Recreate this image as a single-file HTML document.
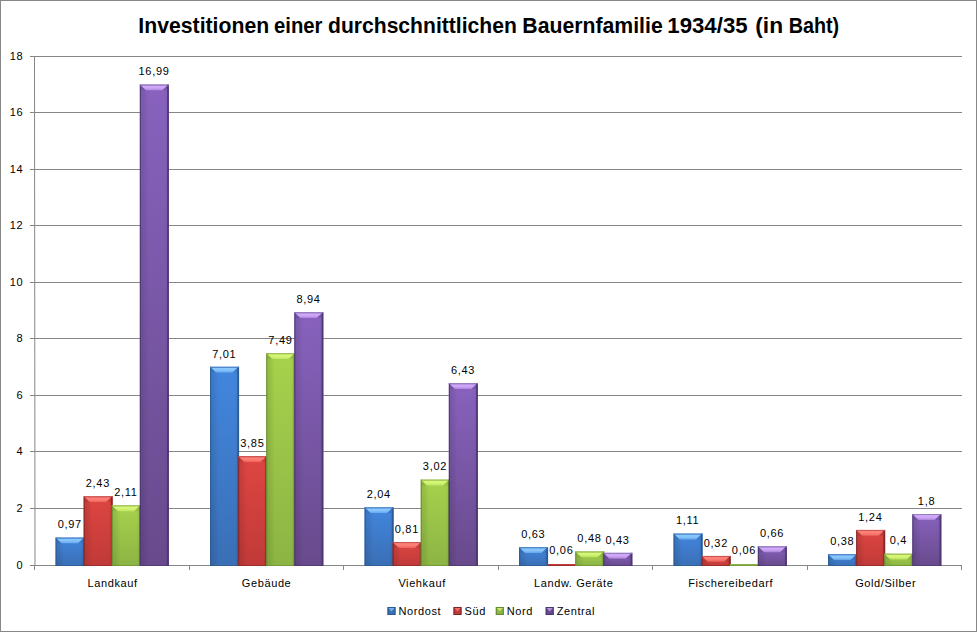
<!DOCTYPE html>
<html><head><meta charset="utf-8"><style>
html,body{margin:0;padding:0;background:#fff;}
body{width:977px;height:632px;overflow:hidden;position:relative;}
.frame{position:absolute;left:0;top:0;width:975px;height:630px;border:1px solid #878787;background:#fff;}
svg{position:absolute;left:0;top:0;}
text{font-family:"Liberation Sans",sans-serif;fill:#000;}
.ax{font-size:11px;letter-spacing:0.6px;}
.lb{font-size:11px;letter-spacing:0.7px;}
.lg{font-size:11px;letter-spacing:0.6px;}
.tt{font-size:21.2px;font-weight:bold;}
</style></head><body><div class="frame"></div>
<svg width="977" height="632" viewBox="0 0 977 632">
<defs><linearGradient id="hz" x1="0" y1="0" x2="1" y2="0"><stop offset="0" stop-color="#000" stop-opacity="0.1"/><stop offset="0.12" stop-color="#000" stop-opacity="0.08"/><stop offset="0.3" stop-color="#000" stop-opacity="0.0"/><stop offset="0.85" stop-color="#000" stop-opacity="0.0"/><stop offset="1" stop-color="#000" stop-opacity="0.08"/></linearGradient><linearGradient id="g0" x1="0" y1="0" x2="0" y2="1"><stop offset="0" stop-color="#4286de"/><stop offset="1" stop-color="#3a6fb5"/></linearGradient><linearGradient id="l0" x1="0" y1="0" x2="0" y2="1"><stop offset="0" stop-color="#8ccaff"/><stop offset="0.5" stop-color="#8ccaff" stop-opacity="0.9"/><stop offset="1" stop-color="#8ccaff" stop-opacity="0.5"/></linearGradient><linearGradient id="g1" x1="0" y1="0" x2="0" y2="1"><stop offset="0" stop-color="#de4642"/><stop offset="1" stop-color="#c03a38"/></linearGradient><linearGradient id="l1" x1="0" y1="0" x2="0" y2="1"><stop offset="0" stop-color="#ff8278"/><stop offset="0.5" stop-color="#ff8278" stop-opacity="0.9"/><stop offset="1" stop-color="#ff8278" stop-opacity="0.5"/></linearGradient><linearGradient id="g2" x1="0" y1="0" x2="0" y2="1"><stop offset="0" stop-color="#a6d24c"/><stop offset="1" stop-color="#8cb444"/></linearGradient><linearGradient id="l2" x1="0" y1="0" x2="0" y2="1"><stop offset="0" stop-color="#d8f878"/><stop offset="0.5" stop-color="#d8f878" stop-opacity="0.9"/><stop offset="1" stop-color="#d8f878" stop-opacity="0.5"/></linearGradient><linearGradient id="g3" x1="0" y1="0" x2="0" y2="1"><stop offset="0" stop-color="#8862be"/><stop offset="1" stop-color="#684a8c"/></linearGradient><linearGradient id="l3" x1="0" y1="0" x2="0" y2="1"><stop offset="0" stop-color="#d4acfc"/><stop offset="0.5" stop-color="#d4acfc" stop-opacity="0.9"/><stop offset="1" stop-color="#d4acfc" stop-opacity="0.5"/></linearGradient></defs>
<line x1="30" y1="565.5" x2="34" y2="565.5" stroke="#868686" stroke-width="1"/>
<text x="23.2" y="568.7" class="ax" text-anchor="end">0</text>
<line x1="34" y1="508.5" x2="962.0" y2="508.5" stroke="#868686" stroke-width="1"/>
<line x1="30" y1="508.5" x2="34" y2="508.5" stroke="#868686" stroke-width="1"/>
<text x="23.2" y="511.7" class="ax" text-anchor="end">2</text>
<line x1="34" y1="451.5" x2="962.0" y2="451.5" stroke="#868686" stroke-width="1"/>
<line x1="30" y1="451.5" x2="34" y2="451.5" stroke="#868686" stroke-width="1"/>
<text x="23.2" y="454.7" class="ax" text-anchor="end">4</text>
<line x1="34" y1="395.5" x2="962.0" y2="395.5" stroke="#868686" stroke-width="1"/>
<line x1="30" y1="395.5" x2="34" y2="395.5" stroke="#868686" stroke-width="1"/>
<text x="23.2" y="398.7" class="ax" text-anchor="end">6</text>
<line x1="34" y1="338.5" x2="962.0" y2="338.5" stroke="#868686" stroke-width="1"/>
<line x1="30" y1="338.5" x2="34" y2="338.5" stroke="#868686" stroke-width="1"/>
<text x="23.2" y="341.7" class="ax" text-anchor="end">8</text>
<line x1="34" y1="282.5" x2="962.0" y2="282.5" stroke="#868686" stroke-width="1"/>
<line x1="30" y1="282.5" x2="34" y2="282.5" stroke="#868686" stroke-width="1"/>
<text x="23.2" y="285.7" class="ax" text-anchor="end">10</text>
<line x1="34" y1="225.5" x2="962.0" y2="225.5" stroke="#868686" stroke-width="1"/>
<line x1="30" y1="225.5" x2="34" y2="225.5" stroke="#868686" stroke-width="1"/>
<text x="23.2" y="228.7" class="ax" text-anchor="end">12</text>
<line x1="34" y1="169.5" x2="962.0" y2="169.5" stroke="#868686" stroke-width="1"/>
<line x1="30" y1="169.5" x2="34" y2="169.5" stroke="#868686" stroke-width="1"/>
<text x="23.2" y="172.7" class="ax" text-anchor="end">14</text>
<line x1="34" y1="112.5" x2="962.0" y2="112.5" stroke="#868686" stroke-width="1"/>
<line x1="30" y1="112.5" x2="34" y2="112.5" stroke="#868686" stroke-width="1"/>
<text x="23.2" y="115.7" class="ax" text-anchor="end">16</text>
<line x1="34" y1="56.5" x2="962.0" y2="56.5" stroke="#868686" stroke-width="1"/>
<line x1="30" y1="56.5" x2="34" y2="56.5" stroke="#868686" stroke-width="1"/>
<text x="23.2" y="59.7" class="ax" text-anchor="end">18</text>
<line x1="34.5" y1="56" x2="35.0" y2="566.0" stroke="#868686" stroke-width="1"/>
<line x1="34.5" y1="565" x2="34.5" y2="570" stroke="#868686" stroke-width="1"/>
<line x1="189.5" y1="565" x2="189.5" y2="570" stroke="#868686" stroke-width="1"/>
<line x1="343.5" y1="565" x2="343.5" y2="570" stroke="#868686" stroke-width="1"/>
<line x1="498.5" y1="565" x2="498.5" y2="570" stroke="#868686" stroke-width="1"/>
<line x1="652.5" y1="565" x2="652.5" y2="570" stroke="#868686" stroke-width="1"/>
<line x1="807.5" y1="565" x2="807.5" y2="570" stroke="#868686" stroke-width="1"/>
<line x1="961.5" y1="565" x2="961.5" y2="570" stroke="#868686" stroke-width="1"/>
<line x1="30" y1="565.5" x2="962.0" y2="565.5" stroke="#868686" stroke-width="1"/>
<rect x="55.57" y="537.57" width="28.99" height="28.43" fill="url(#g0)"/>
<rect x="55.57" y="537.57" width="28.99" height="28.43" fill="url(#hz)"/>
<rect x="55.57" y="537.57" width="1.1" height="28.43" fill="#2a5890" opacity="0.85"/>
<rect x="82.86" y="537.57" width="1.7" height="28.43" fill="#2a5890" opacity="0.95"/>
<polygon points="56.67,538.57 82.86,538.57 78.06,543.37 61.47,543.37" fill="url(#l0)"/>
<polygon points="56.67,538.57 61.47,543.37 56.67,543.37" fill="#2a5890" opacity="0.2"/>
<polygon points="82.86,538.57 78.06,543.37 82.86,543.37" fill="#2a5890" opacity="0.2"/>
<rect x="55.57" y="537.57" width="28.99" height="1" fill="#4e86c6"/>
<rect x="55.57" y="565.00" width="28.99" height="1" fill="#2a5890" opacity="0.6"/>
<rect x="210.07" y="366.77" width="28.99" height="199.23" fill="url(#g0)"/>
<rect x="210.07" y="366.77" width="28.99" height="199.23" fill="url(#hz)"/>
<rect x="210.07" y="366.77" width="1.1" height="199.23" fill="#2a5890" opacity="0.85"/>
<rect x="237.36" y="366.77" width="1.7" height="199.23" fill="#2a5890" opacity="0.95"/>
<polygon points="211.17,367.77 237.36,367.77 232.56,372.57 215.97,372.57" fill="url(#l0)"/>
<polygon points="211.17,367.77 215.97,372.57 211.17,372.57" fill="#2a5890" opacity="0.2"/>
<polygon points="237.36,367.77 232.56,372.57 237.36,372.57" fill="#2a5890" opacity="0.2"/>
<rect x="210.07" y="366.77" width="28.99" height="1" fill="#4e86c6"/>
<rect x="210.07" y="565.00" width="28.99" height="1" fill="#2a5890" opacity="0.6"/>
<rect x="364.57" y="507.31" width="28.99" height="58.69" fill="url(#g0)"/>
<rect x="364.57" y="507.31" width="28.99" height="58.69" fill="url(#hz)"/>
<rect x="364.57" y="507.31" width="1.1" height="58.69" fill="#2a5890" opacity="0.85"/>
<rect x="391.86" y="507.31" width="1.7" height="58.69" fill="#2a5890" opacity="0.95"/>
<polygon points="365.67,508.31 391.86,508.31 387.06,513.11 370.47,513.11" fill="url(#l0)"/>
<polygon points="365.67,508.31 370.47,513.11 365.67,513.11" fill="#2a5890" opacity="0.2"/>
<polygon points="391.86,508.31 387.06,513.11 391.86,513.11" fill="#2a5890" opacity="0.2"/>
<rect x="364.57" y="507.31" width="28.99" height="1" fill="#4e86c6"/>
<rect x="364.57" y="565.00" width="28.99" height="1" fill="#2a5890" opacity="0.6"/>
<rect x="519.07" y="547.18" width="28.99" height="18.82" fill="url(#g0)"/>
<rect x="519.07" y="547.18" width="28.99" height="18.82" fill="url(#hz)"/>
<rect x="519.07" y="547.18" width="1.1" height="18.82" fill="#2a5890" opacity="0.85"/>
<rect x="546.36" y="547.18" width="1.7" height="18.82" fill="#2a5890" opacity="0.95"/>
<polygon points="520.17,548.18 546.36,548.18 541.56,552.98 524.97,552.98" fill="url(#l0)"/>
<polygon points="520.17,548.18 524.97,552.98 520.17,552.98" fill="#2a5890" opacity="0.2"/>
<polygon points="546.36,548.18 541.56,552.98 546.36,552.98" fill="#2a5890" opacity="0.2"/>
<rect x="519.07" y="547.18" width="28.99" height="1" fill="#4e86c6"/>
<rect x="519.07" y="565.00" width="28.99" height="1" fill="#2a5890" opacity="0.6"/>
<rect x="673.57" y="533.61" width="28.99" height="32.39" fill="url(#g0)"/>
<rect x="673.57" y="533.61" width="28.99" height="32.39" fill="url(#hz)"/>
<rect x="673.57" y="533.61" width="1.1" height="32.39" fill="#2a5890" opacity="0.85"/>
<rect x="700.86" y="533.61" width="1.7" height="32.39" fill="#2a5890" opacity="0.95"/>
<polygon points="674.67,534.61 700.86,534.61 696.06,539.41 679.47,539.41" fill="url(#l0)"/>
<polygon points="674.67,534.61 679.47,539.41 674.67,539.41" fill="#2a5890" opacity="0.2"/>
<polygon points="700.86,534.61 696.06,539.41 700.86,539.41" fill="#2a5890" opacity="0.2"/>
<rect x="673.57" y="533.61" width="28.99" height="1" fill="#4e86c6"/>
<rect x="673.57" y="565.00" width="28.99" height="1" fill="#2a5890" opacity="0.6"/>
<rect x="828.07" y="554.25" width="28.99" height="11.75" fill="url(#g0)"/>
<rect x="828.07" y="554.25" width="28.99" height="11.75" fill="url(#hz)"/>
<rect x="828.07" y="554.25" width="1.1" height="11.75" fill="#2a5890" opacity="0.85"/>
<rect x="855.36" y="554.25" width="1.7" height="11.75" fill="#2a5890" opacity="0.95"/>
<polygon points="829.17,555.25 855.36,555.25 850.56,560.05 833.97,560.05" fill="url(#l0)"/>
<polygon points="829.17,555.25 833.97,560.05 829.17,560.05" fill="#2a5890" opacity="0.2"/>
<polygon points="855.36,555.25 850.56,560.05 855.36,560.05" fill="#2a5890" opacity="0.2"/>
<rect x="828.07" y="554.25" width="28.99" height="1" fill="#4e86c6"/>
<rect x="828.07" y="565.00" width="28.99" height="1" fill="#2a5890" opacity="0.6"/>
<rect x="83.66" y="496.28" width="28.99" height="69.72" fill="url(#g1)"/>
<rect x="83.66" y="496.28" width="28.99" height="69.72" fill="url(#hz)"/>
<rect x="83.66" y="496.28" width="1.1" height="69.72" fill="#7e2626" opacity="0.85"/>
<rect x="110.95" y="496.28" width="1.7" height="69.72" fill="#7e2626" opacity="0.95"/>
<polygon points="84.76,497.28 110.95,497.28 106.15,502.08 89.56,502.08" fill="url(#l1)"/>
<polygon points="84.76,497.28 89.56,502.08 84.76,502.08" fill="#7e2626" opacity="0.2"/>
<polygon points="110.95,497.28 106.15,502.08 110.95,502.08" fill="#7e2626" opacity="0.2"/>
<rect x="83.66" y="496.28" width="28.99" height="1" fill="#c85656"/>
<rect x="83.66" y="565.00" width="28.99" height="1" fill="#7e2626" opacity="0.6"/>
<rect x="238.16" y="456.13" width="28.99" height="109.87" fill="url(#g1)"/>
<rect x="238.16" y="456.13" width="28.99" height="109.87" fill="url(#hz)"/>
<rect x="238.16" y="456.13" width="1.1" height="109.87" fill="#7e2626" opacity="0.85"/>
<rect x="265.45" y="456.13" width="1.7" height="109.87" fill="#7e2626" opacity="0.95"/>
<polygon points="239.26,457.13 265.45,457.13 260.65,461.93 244.06,461.93" fill="url(#l1)"/>
<polygon points="239.26,457.13 244.06,461.93 239.26,461.93" fill="#7e2626" opacity="0.2"/>
<polygon points="265.45,457.13 260.65,461.93 265.45,461.93" fill="#7e2626" opacity="0.2"/>
<rect x="238.16" y="456.13" width="28.99" height="1" fill="#c85656"/>
<rect x="238.16" y="565.00" width="28.99" height="1" fill="#7e2626" opacity="0.6"/>
<rect x="392.66" y="542.10" width="28.99" height="23.90" fill="url(#g1)"/>
<rect x="392.66" y="542.10" width="28.99" height="23.90" fill="url(#hz)"/>
<rect x="392.66" y="542.10" width="1.1" height="23.90" fill="#7e2626" opacity="0.85"/>
<rect x="419.95" y="542.10" width="1.7" height="23.90" fill="#7e2626" opacity="0.95"/>
<polygon points="393.76,543.10 419.95,543.10 415.15,547.89 398.56,547.89" fill="url(#l1)"/>
<polygon points="393.76,543.10 398.56,547.89 393.76,547.89" fill="#7e2626" opacity="0.2"/>
<polygon points="419.95,543.10 415.15,547.89 419.95,547.89" fill="#7e2626" opacity="0.2"/>
<rect x="392.66" y="542.10" width="28.99" height="1" fill="#c85656"/>
<rect x="392.66" y="565.00" width="28.99" height="1" fill="#7e2626" opacity="0.6"/>
<rect x="547.16" y="564" width="28.99" height="2" fill="#c03a38"/>
<rect x="547.16" y="565" width="28.99" height="1" fill="#7e2626" opacity="0.5"/>
<rect x="701.66" y="555.95" width="28.99" height="10.05" fill="url(#g1)"/>
<rect x="701.66" y="555.95" width="28.99" height="10.05" fill="url(#hz)"/>
<rect x="701.66" y="555.95" width="1.1" height="10.05" fill="#7e2626" opacity="0.85"/>
<rect x="728.95" y="555.95" width="1.7" height="10.05" fill="#7e2626" opacity="0.95"/>
<polygon points="702.76,556.95 728.95,556.95 724.15,561.75 707.56,561.75" fill="url(#l1)"/>
<polygon points="702.76,556.95 707.56,561.75 702.76,561.75" fill="#7e2626" opacity="0.2"/>
<polygon points="728.95,556.95 724.15,561.75 728.95,561.75" fill="#7e2626" opacity="0.2"/>
<rect x="701.66" y="555.95" width="28.99" height="1" fill="#c85656"/>
<rect x="701.66" y="565.00" width="28.99" height="1" fill="#7e2626" opacity="0.6"/>
<rect x="856.16" y="529.94" width="28.99" height="36.06" fill="url(#g1)"/>
<rect x="856.16" y="529.94" width="28.99" height="36.06" fill="url(#hz)"/>
<rect x="856.16" y="529.94" width="1.1" height="36.06" fill="#7e2626" opacity="0.85"/>
<rect x="883.45" y="529.94" width="1.7" height="36.06" fill="#7e2626" opacity="0.95"/>
<polygon points="857.26,530.94 883.45,530.94 878.65,535.74 862.06,535.74" fill="url(#l1)"/>
<polygon points="857.26,530.94 862.06,535.74 857.26,535.74" fill="#7e2626" opacity="0.2"/>
<polygon points="883.45,530.94 878.65,535.74 883.45,535.74" fill="#7e2626" opacity="0.2"/>
<rect x="856.16" y="529.94" width="28.99" height="1" fill="#c85656"/>
<rect x="856.16" y="565.00" width="28.99" height="1" fill="#7e2626" opacity="0.6"/>
<rect x="111.75" y="505.33" width="28.99" height="60.67" fill="url(#g2)"/>
<rect x="111.75" y="505.33" width="28.99" height="60.67" fill="url(#hz)"/>
<rect x="111.75" y="505.33" width="1.1" height="60.67" fill="#668830" opacity="0.85"/>
<rect x="139.04" y="505.33" width="1.7" height="60.67" fill="#668830" opacity="0.95"/>
<polygon points="112.85,506.33 139.04,506.33 134.24,511.13 117.65,511.13" fill="url(#l2)"/>
<polygon points="112.85,506.33 117.65,511.13 112.85,511.13" fill="#668830" opacity="0.2"/>
<polygon points="139.04,506.33 134.24,511.13 139.04,511.13" fill="#668830" opacity="0.2"/>
<rect x="111.75" y="505.33" width="28.99" height="1" fill="#9cba5a"/>
<rect x="111.75" y="565.00" width="28.99" height="1" fill="#668830" opacity="0.6"/>
<rect x="266.25" y="353.20" width="28.99" height="212.80" fill="url(#g2)"/>
<rect x="266.25" y="353.20" width="28.99" height="212.80" fill="url(#hz)"/>
<rect x="266.25" y="353.20" width="1.1" height="212.80" fill="#668830" opacity="0.85"/>
<rect x="293.54" y="353.20" width="1.7" height="212.80" fill="#668830" opacity="0.95"/>
<polygon points="267.35,354.20 293.54,354.20 288.74,359.00 272.15,359.00" fill="url(#l2)"/>
<polygon points="267.35,354.20 272.15,359.00 267.35,359.00" fill="#668830" opacity="0.2"/>
<polygon points="293.54,354.20 288.74,359.00 293.54,359.00" fill="#668830" opacity="0.2"/>
<rect x="266.25" y="353.20" width="28.99" height="1" fill="#9cba5a"/>
<rect x="266.25" y="565.00" width="28.99" height="1" fill="#668830" opacity="0.6"/>
<rect x="420.75" y="479.60" width="28.99" height="86.40" fill="url(#g2)"/>
<rect x="420.75" y="479.60" width="28.99" height="86.40" fill="url(#hz)"/>
<rect x="420.75" y="479.60" width="1.1" height="86.40" fill="#668830" opacity="0.85"/>
<rect x="448.04" y="479.60" width="1.7" height="86.40" fill="#668830" opacity="0.95"/>
<polygon points="421.85,480.60 448.04,480.60 443.24,485.40 426.65,485.40" fill="url(#l2)"/>
<polygon points="421.85,480.60 426.65,485.40 421.85,485.40" fill="#668830" opacity="0.2"/>
<polygon points="448.04,480.60 443.24,485.40 448.04,485.40" fill="#668830" opacity="0.2"/>
<rect x="420.75" y="479.60" width="28.99" height="1" fill="#9cba5a"/>
<rect x="420.75" y="565.00" width="28.99" height="1" fill="#668830" opacity="0.6"/>
<rect x="575.25" y="551.43" width="28.99" height="14.57" fill="url(#g2)"/>
<rect x="575.25" y="551.43" width="28.99" height="14.57" fill="url(#hz)"/>
<rect x="575.25" y="551.43" width="1.1" height="14.57" fill="#668830" opacity="0.85"/>
<rect x="602.54" y="551.43" width="1.7" height="14.57" fill="#668830" opacity="0.95"/>
<polygon points="576.35,552.43 602.54,552.43 597.74,557.23 581.15,557.23" fill="url(#l2)"/>
<polygon points="576.35,552.43 581.15,557.23 576.35,557.23" fill="#668830" opacity="0.2"/>
<polygon points="602.54,552.43 597.74,557.23 602.54,557.23" fill="#668830" opacity="0.2"/>
<rect x="575.25" y="551.43" width="28.99" height="1" fill="#9cba5a"/>
<rect x="575.25" y="565.00" width="28.99" height="1" fill="#668830" opacity="0.6"/>
<rect x="729.75" y="564" width="28.99" height="2" fill="#8cb444"/>
<rect x="729.75" y="565" width="28.99" height="1" fill="#668830" opacity="0.5"/>
<rect x="884.25" y="553.69" width="28.99" height="12.31" fill="url(#g2)"/>
<rect x="884.25" y="553.69" width="28.99" height="12.31" fill="url(#hz)"/>
<rect x="884.25" y="553.69" width="1.1" height="12.31" fill="#668830" opacity="0.85"/>
<rect x="911.54" y="553.69" width="1.7" height="12.31" fill="#668830" opacity="0.95"/>
<polygon points="885.35,554.69 911.54,554.69 906.74,559.49 890.15,559.49" fill="url(#l2)"/>
<polygon points="885.35,554.69 890.15,559.49 885.35,559.49" fill="#668830" opacity="0.2"/>
<polygon points="911.54,554.69 906.74,559.49 911.54,559.49" fill="#668830" opacity="0.2"/>
<rect x="884.25" y="553.69" width="28.99" height="1" fill="#9cba5a"/>
<rect x="884.25" y="565.00" width="28.99" height="1" fill="#668830" opacity="0.6"/>
<rect x="139.84" y="84.56" width="28.99" height="481.44" fill="url(#g3)"/>
<rect x="139.84" y="84.56" width="28.99" height="481.44" fill="url(#hz)"/>
<rect x="139.84" y="84.56" width="1.1" height="481.44" fill="#4a3670" opacity="0.85"/>
<rect x="167.13" y="84.56" width="1.7" height="481.44" fill="#4a3670" opacity="0.95"/>
<polygon points="140.94,85.56 167.13,85.56 162.33,90.36 145.74,90.36" fill="url(#l3)"/>
<polygon points="140.94,85.56 145.74,90.36 140.94,90.36" fill="#4a3670" opacity="0.2"/>
<polygon points="167.13,85.56 162.33,90.36 167.13,90.36" fill="#4a3670" opacity="0.2"/>
<rect x="139.84" y="84.56" width="28.99" height="1" fill="#987ec0"/>
<rect x="139.84" y="565.00" width="28.99" height="1" fill="#4a3670" opacity="0.6"/>
<rect x="294.34" y="312.20" width="28.99" height="253.80" fill="url(#g3)"/>
<rect x="294.34" y="312.20" width="28.99" height="253.80" fill="url(#hz)"/>
<rect x="294.34" y="312.20" width="1.1" height="253.80" fill="#4a3670" opacity="0.85"/>
<rect x="321.63" y="312.20" width="1.7" height="253.80" fill="#4a3670" opacity="0.95"/>
<polygon points="295.44,313.20 321.63,313.20 316.83,318.00 300.24,318.00" fill="url(#l3)"/>
<polygon points="295.44,313.20 300.24,318.00 295.44,318.00" fill="#4a3670" opacity="0.2"/>
<polygon points="321.63,313.20 316.83,318.00 321.63,318.00" fill="#4a3670" opacity="0.2"/>
<rect x="294.34" y="312.20" width="28.99" height="1" fill="#987ec0"/>
<rect x="294.34" y="565.00" width="28.99" height="1" fill="#4a3670" opacity="0.6"/>
<rect x="448.84" y="383.17" width="28.99" height="182.83" fill="url(#g3)"/>
<rect x="448.84" y="383.17" width="28.99" height="182.83" fill="url(#hz)"/>
<rect x="448.84" y="383.17" width="1.1" height="182.83" fill="#4a3670" opacity="0.85"/>
<rect x="476.13" y="383.17" width="1.7" height="182.83" fill="#4a3670" opacity="0.95"/>
<polygon points="449.94,384.17 476.13,384.17 471.33,388.97 454.74,388.97" fill="url(#l3)"/>
<polygon points="449.94,384.17 454.74,388.97 449.94,388.97" fill="#4a3670" opacity="0.2"/>
<polygon points="476.13,384.17 471.33,388.97 476.13,388.97" fill="#4a3670" opacity="0.2"/>
<rect x="448.84" y="383.17" width="28.99" height="1" fill="#987ec0"/>
<rect x="448.84" y="565.00" width="28.99" height="1" fill="#4a3670" opacity="0.6"/>
<rect x="603.34" y="552.84" width="28.99" height="13.16" fill="url(#g3)"/>
<rect x="603.34" y="552.84" width="28.99" height="13.16" fill="url(#hz)"/>
<rect x="603.34" y="552.84" width="1.1" height="13.16" fill="#4a3670" opacity="0.85"/>
<rect x="630.63" y="552.84" width="1.7" height="13.16" fill="#4a3670" opacity="0.95"/>
<polygon points="604.44,553.84 630.63,553.84 625.83,558.64 609.24,558.64" fill="url(#l3)"/>
<polygon points="604.44,553.84 609.24,558.64 604.44,558.64" fill="#4a3670" opacity="0.2"/>
<polygon points="630.63,553.84 625.83,558.64 630.63,558.64" fill="#4a3670" opacity="0.2"/>
<rect x="603.34" y="552.84" width="28.99" height="1" fill="#987ec0"/>
<rect x="603.34" y="565.00" width="28.99" height="1" fill="#4a3670" opacity="0.6"/>
<rect x="757.84" y="546.34" width="28.99" height="19.66" fill="url(#g3)"/>
<rect x="757.84" y="546.34" width="28.99" height="19.66" fill="url(#hz)"/>
<rect x="757.84" y="546.34" width="1.1" height="19.66" fill="#4a3670" opacity="0.85"/>
<rect x="785.13" y="546.34" width="1.7" height="19.66" fill="#4a3670" opacity="0.95"/>
<polygon points="758.94,547.34 785.13,547.34 780.33,552.14 763.74,552.14" fill="url(#l3)"/>
<polygon points="758.94,547.34 763.74,552.14 758.94,552.14" fill="#4a3670" opacity="0.2"/>
<polygon points="785.13,547.34 780.33,552.14 785.13,552.14" fill="#4a3670" opacity="0.2"/>
<rect x="757.84" y="546.34" width="28.99" height="1" fill="#987ec0"/>
<rect x="757.84" y="565.00" width="28.99" height="1" fill="#4a3670" opacity="0.6"/>
<rect x="912.34" y="514.10" width="28.99" height="51.90" fill="url(#g3)"/>
<rect x="912.34" y="514.10" width="28.99" height="51.90" fill="url(#hz)"/>
<rect x="912.34" y="514.10" width="1.1" height="51.90" fill="#4a3670" opacity="0.85"/>
<rect x="939.63" y="514.10" width="1.7" height="51.90" fill="#4a3670" opacity="0.95"/>
<polygon points="913.44,515.10 939.63,515.10 934.83,519.90 918.24,519.90" fill="url(#l3)"/>
<polygon points="913.44,515.10 918.24,519.90 913.44,519.90" fill="#4a3670" opacity="0.2"/>
<polygon points="939.63,515.10 934.83,519.90 939.63,519.90" fill="#4a3670" opacity="0.2"/>
<rect x="912.34" y="514.10" width="28.99" height="1" fill="#987ec0"/>
<rect x="912.34" y="565.00" width="28.99" height="1" fill="#4a3670" opacity="0.6"/>
<text x="69.76" y="528.37" class="lb" text-anchor="middle">0,97</text>
<text x="224.26" y="357.57" class="lb" text-anchor="middle">7,01</text>
<text x="378.76" y="498.11" class="lb" text-anchor="middle">2,04</text>
<text x="533.26" y="537.98" class="lb" text-anchor="middle">0,63</text>
<text x="687.76" y="524.41" class="lb" text-anchor="middle">1,11</text>
<text x="842.26" y="545.05" class="lb" text-anchor="middle">0,38</text>
<text x="97.85" y="487.08" class="lb" text-anchor="middle">2,43</text>
<text x="252.35" y="446.93" class="lb" text-anchor="middle">3,85</text>
<text x="406.85" y="532.89" class="lb" text-anchor="middle">0,81</text>
<text x="561.35" y="554.10" class="lb" text-anchor="middle">0,06</text>
<text x="715.85" y="546.75" class="lb" text-anchor="middle">0,32</text>
<text x="870.35" y="520.74" class="lb" text-anchor="middle">1,24</text>
<text x="125.95" y="496.13" class="lb" text-anchor="middle">2,11</text>
<text x="280.45" y="344.00" class="lb" text-anchor="middle">7,49</text>
<text x="434.95" y="470.40" class="lb" text-anchor="middle">3,02</text>
<text x="589.45" y="542.23" class="lb" text-anchor="middle">0,48</text>
<text x="743.95" y="554.10" class="lb" text-anchor="middle">0,06</text>
<text x="898.45" y="544.49" class="lb" text-anchor="middle">0,4</text>
<text x="154.04" y="75.36" class="lb" text-anchor="middle">16,99</text>
<text x="308.54" y="303.00" class="lb" text-anchor="middle">8,94</text>
<text x="463.04" y="373.97" class="lb" text-anchor="middle">6,43</text>
<text x="617.54" y="543.64" class="lb" text-anchor="middle">0,43</text>
<text x="772.04" y="537.14" class="lb" text-anchor="middle">0,66</text>
<text x="926.54" y="504.90" class="lb" text-anchor="middle">1,8</text>
<text x="112.65" y="587" class="ax" text-anchor="middle">Landkauf</text>
<text x="266.60" y="587" class="ax" text-anchor="middle">Gebäude</text>
<text x="422.10" y="587" class="ax" text-anchor="middle">Viehkauf</text>
<text x="573.70" y="587" class="ax" text-anchor="middle">Landw. Geräte</text>
<text x="730.65" y="587" class="ax" text-anchor="middle">Fischereibedarf</text>
<text x="885.65" y="587" class="ax" text-anchor="middle">Gold/Silber</text>
<rect x="387.5" y="607" width="8" height="8" fill="#3a6fb5"/>
<rect x="388.0" y="607.5" width="7" height="7" fill="none" stroke="#2a5890" stroke-width="1" opacity="1"/>
<polygon points="388.5,608 394.5,608 391.5,611.5" fill="#8ccaff" opacity="0.75"/>
<text x="398.5" y="614.8" class="lg">Nordost</text>
<rect x="453.5" y="607" width="8" height="8" fill="#c03a38"/>
<rect x="454.0" y="607.5" width="7" height="7" fill="none" stroke="#7e2626" stroke-width="1" opacity="1"/>
<polygon points="454.5,608 460.5,608 457.5,611.5" fill="#ff8278" opacity="0.75"/>
<text x="464.5" y="614.8" class="lg">Süd</text>
<rect x="495.8" y="607" width="8" height="8" fill="#8cb444"/>
<rect x="496.3" y="607.5" width="7" height="7" fill="none" stroke="#668830" stroke-width="1" opacity="1"/>
<polygon points="496.8,608 502.8,608 499.8,611.5" fill="#d8f878" opacity="0.75"/>
<text x="506.8" y="614.8" class="lg">Nord</text>
<rect x="545.7" y="607" width="8" height="8" fill="#684a8c"/>
<rect x="546.2" y="607.5" width="7" height="7" fill="none" stroke="#4a3670" stroke-width="1" opacity="1"/>
<polygon points="546.7,608 552.7,608 549.7,611.5" fill="#d4acfc" opacity="0.75"/>
<text x="556.7" y="614.8" class="lg">Zentral</text>
<text x="138.30" y="32.8" class="tt" textLength="130.90" lengthAdjust="spacingAndGlyphs">Investitionen</text>
<text x="274.00" y="32.8" class="tt" textLength="48.50" lengthAdjust="spacingAndGlyphs">einer</text>
<text x="328.00" y="32.8" class="tt" textLength="188.80" lengthAdjust="spacingAndGlyphs">durchschnittlichen</text>
<text x="522.30" y="32.8" class="tt" textLength="140.40" lengthAdjust="spacingAndGlyphs">Bauernfamilie</text>
<text x="667.30" y="32.8" class="tt" textLength="80.30" lengthAdjust="spacingAndGlyphs">1934/35</text>
<text x="755.30" y="32.8" class="tt" textLength="27.80" lengthAdjust="spacingAndGlyphs">(in</text>
<text x="788.70" y="32.8" class="tt" textLength="50.50" lengthAdjust="spacingAndGlyphs">Baht)</text>
</svg></body></html>
